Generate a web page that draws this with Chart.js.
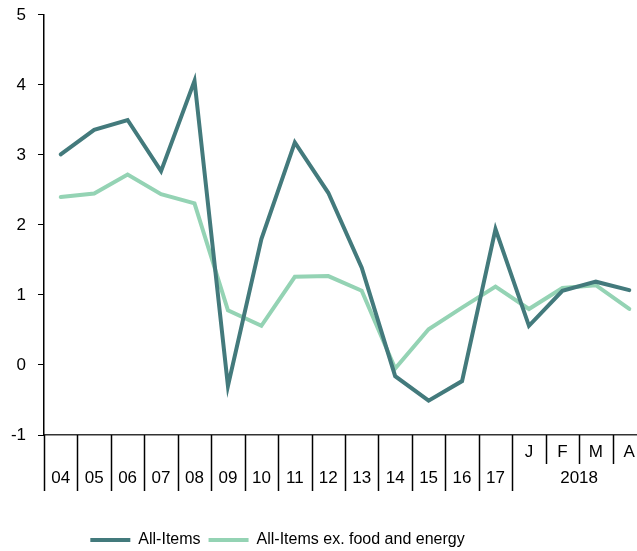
<!DOCTYPE html>
<html>
<head>
<meta charset="utf-8">
<script src="https://cdn.jsdelivr.net/npm/chart.js@4"></script>
<style>
  html, body { margin: 0; padding: 0; overflow: hidden; background: #fff; }
  /* canvas runs past both window edges: the last category is cut off, as in the original */
  #wrap { position: absolute; left: -91px; top: 0; width: 737px; height: 551px; }
</style>
</head>
<body>
<div id="wrap"><canvas id="cpiChart"></canvas></div>
<script>
// ---- data ----
const years      = ['04', '05', '06', '07', '08', '09', '10', '11', '12', '13', '14', '15', '16', '17'];
const months     = ['J', 'F', 'M', 'A'];
const monthsYear = '2018';
const allItems   = [3.01, 3.36, 3.50, 2.77, 4.06, -0.30, 1.80, 3.18, 2.46, 1.39, -0.16, -0.51, -0.23, 1.94, 0.56, 1.06, 1.19, 1.07];
const coreItems  = [2.40, 2.45, 2.72, 2.44, 2.31, 0.78, 0.56, 1.26, 1.27, 1.06, -0.05, 0.51, 0.82, 1.12, 0.80, 1.10, 1.14, 0.80];
const yMin = -1, yMax = 5;

const DARK  = '#437a7c';
const LIGHT = '#94d3b4';
const FONT  = "'Liberation Sans', Arial, sans-serif";

// two-row axis: months on the top row, years on the bottom row
const labels = years.map(y => ['', y]).concat(months.map(m => [m, '']));

// separators between categories + the "2018" label under the months
const xDividers = {
  id: 'xDividers',
  afterDraw(chart) {
    const { ctx, chartArea, scales: { x } } = chart;
    const n = labels.length;
    const half = (x.getPixelForValue(1) - x.getPixelForValue(0)) / 2;
    const top = chartArea.bottom;
    ctx.save();
    ctx.strokeStyle = '#000';
    ctx.lineWidth = 1.5;
    for (let i = 0; i < n; i++) {
      const px = Math.round(x.getPixelForValue(i) - half) + 0.5;
      const len = i > years.length ? 29 : 56;
      ctx.beginPath();
      ctx.moveTo(px, top);
      ctx.lineTo(px, top + len);
      ctx.stroke();
    }
    const cx = (x.getPixelForValue(years.length) + x.getPixelForValue(n - 1)) / 2;
    ctx.fillStyle = '#000';
    ctx.font = `17px ${FONT}`;
    ctx.textAlign = 'center';
    ctx.textBaseline = 'middle';
    ctx.fillText(monthsYear, cx, top + 43);
    ctx.restore();
  }
};

new Chart(document.getElementById('cpiChart'), {
  type: 'line',
  data: {
    labels,
    datasets: [
      { label: 'All-Items', data: allItems, borderColor: DARK, backgroundColor: DARK, borderWidth: 4, borderCapStyle: 'round', pointRadius: 0, tension: 0 },
      { label: 'All-Items ex. food and energy', data: coreItems, borderColor: LIGHT, backgroundColor: LIGHT, borderWidth: 4, borderCapStyle: 'round', pointRadius: 0, tension: 0 },
    ]
  },
  options: {
    responsive: true,
    maintainAspectRatio: false,
    animation: false,
    layout: { padding: { top: 0, bottom: -7 } },
    plugins: {
      tooltip: { enabled: false },
      legend: {
        position: 'bottom',
        labels: {
          usePointStyle: true, pointStyle: 'line', pointStyleWidth: 40,
          color: '#000', font: { family: FONT, size: 16 }, padding: 8,
        }
      }
    },
    scales: {
      x: {
        offset: true,
        afterFit: s => { s.height = 89; },
        grid: { display: false },
        border: { display: true, color: '#333', width: 1.5 },
        ticks: { color: '#000', font: { family: FONT, size: 17, lineHeight: 1.53 }, padding: -4, maxRotation: 0, autoSkip: false },
      },
      y: {
        min: yMin, max: yMax,
        afterFit: s => { s.width = 135; },
        grid: { drawOnChartArea: false, color: '#000', tickLength: 6 },
        border: { color: '#000', width: 1.5 },
        // small lineHeight only trims the space kept above the top label
        ticks: { stepSize: 1, color: '#000', font: { family: FONT, size: 17, lineHeight: 0.35 }, padding: 12 },
      }
    }
  },
  plugins: [xDividers]
});
</script>
</body>
</html>
